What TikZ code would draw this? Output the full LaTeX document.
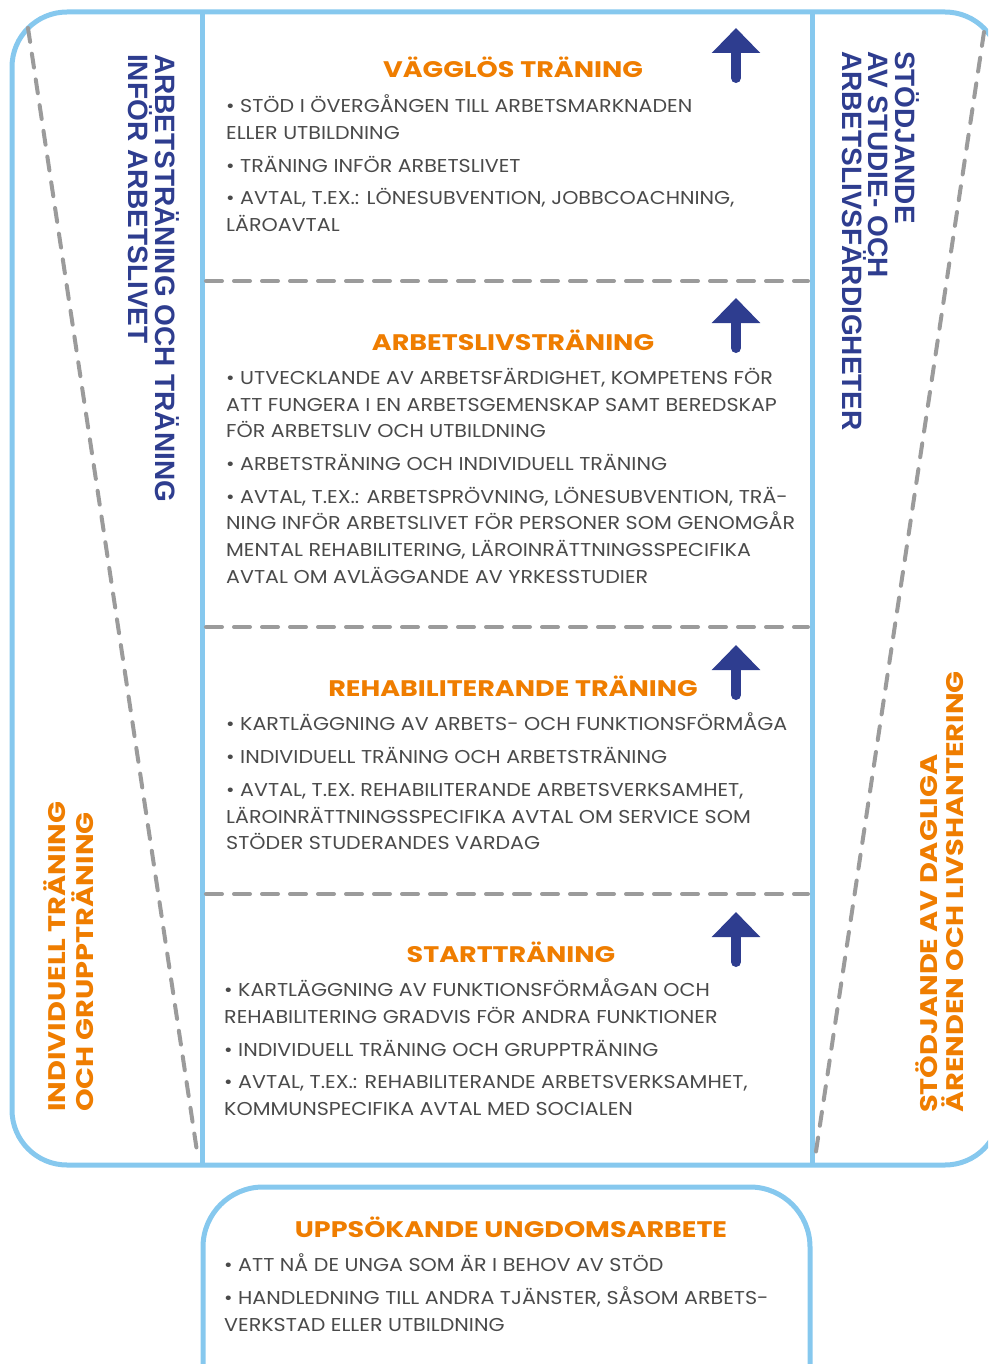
\documentclass[tikz,border=0pt]{standalone}
\usepackage{fontspec}
\setmainfont{Poppins}[FakeStretch=1.11]
\newfontfamily\headfont{Poppins}[FakeStretch=1.2]
\newfontfamily\bluefont{Liberation Sans}
\usetikzlibrary{arrows.meta}
\definecolor{lblue}{HTML}{86C8EE}
\definecolor{dgray}{HTML}{9B9B9B}
\definecolor{org}{HTML}{EF7D00}
\definecolor{navy}{HTML}{2E3D8F}
\definecolor{txt}{HTML}{4A4A4A}
\tikzset{
  frame/.style={draw=lblue, line width=5pt},
  sep/.style={draw=dgray, line width=4pt, line cap=round, dash pattern=on 16pt off 12pt},
  diag/.style={draw=dgray, line width=4pt, line cap=round, dash pattern=on 14pt off 12pt},
  body/.style={inner sep=0pt, anchor=base west, text=txt, font=\fontsize{18.6}{20}\selectfont},
  head/.style={inner sep=0pt, anchor=base, text=org, font=\headfont\bfseries\fontsize{22.5}{24}\selectfont},
  vblue/.style={inner sep=0pt, anchor=base west, rotate=-90, text=navy, font=\bluefont\bfseries\fontsize{28}{28}\selectfont},
  vorg/.style={inner sep=0pt, anchor=base west, rotate=90, text=org, font=\headfont\bfseries\fontsize{24}{24}\selectfont},
  uparrow/.style={draw=navy, line width=10pt, line cap=round, -{Triangle[width=47pt,length=25pt]}},
}
\begin{document}
\begin{tikzpicture}[x=1pt,y=-1pt]
\useasboundingbox (0,0) rectangle (988,1364);
\clip (0,0) rectangle (988,1364);
% frames
\draw[frame, rounded corners=55pt] (12,12) rectangle (1000,1165);
\draw[frame] (202,12) -- (202,1165);
\draw[frame] (812,12) -- (812,1165);
\draw[frame, rounded corners=60pt] (203,1187) rectangle (810,1440);
% dashed separators
\draw[sep] (206,281) -- (808,281);
\draw[sep] (206,627) -- (808,627);
\draw[sep] (206,894) -- (808,894);
% diagonals
\draw[diag] (28,28) -- (198,1158);
\draw[diag] (984,32) -- (815,1158);
% arrows
\coordinate (a1s) at (736,78); \coordinate (a1t) at (736,28);
\coordinate (a2s) at (736,348); \coordinate (a2t) at (736,298);
\coordinate (a3s) at (736,695); \coordinate (a3t) at (736,645);
\coordinate (a4s) at (736,962); \coordinate (a4t) at (736,912);
\draw[uparrow] (a1s) -- (a1t);
\draw[uparrow] (a2s) -- (a2t);
\draw[uparrow] (a3s) -- (a3t);
\draw[uparrow] (a4s) -- (a4t);
% headings
\node[head] (h1) at (513,78) {VÄGGLÖS TRÄNING};
\node[head] (h2) at (513,350) {ARBETSLIVSTRÄNING};
\node[head] (h3) at (513,696) {REHABILITERANDE TRÄNING};
\node[head] (h4) at (511,962) {STARTTRÄNING};
\node[head] (h5) at (511,1237) {UPPSÖKANDE UNGDOMSARBETE};
% body texts
\foreach \y/\t [count=\i] in {
  112.5/{• STÖD I ÖVERGÅNGEN TILL ARBETSMARKNADEN},
  139.5/{ELLER UTBILDNING},
  172.5/{• TRÄNING INFÖR ARBETSLIVET},
  204.5/{• AVTAL, T.EX.: LÖNESUBVENTION, JOBBCOACHNING,},
  231.5/{LÄROAVTAL},
  384.5/{• UTVECKLANDE AV ARBETSFÄRDIGHET, KOMPETENS FÖR},
  411.5/{ATT FUNGERA I EN ARBETSGEMENSKAP SAMT BEREDSKAP},
  437.5/{FÖR ARBETSLIV OCH UTBILDNING},
  470.5/{• ARBETSTRÄNING OCH INDIVIDUELL TRÄNING},
  503.5/{• AVTAL, T.EX.: ARBETSPRÖVNING, LÖNESUBVENTION, TRÄ-},
  529.5/{NING INFÖR ARBETSLIVET FÖR PERSONER SOM GENOMGÅR},
  556.5/{MENTAL REHABILITERING, LÄROINRÄTTNINGSSPECIFIKA},
  583.5/{AVTAL OM AVLÄGGANDE AV YRKESSTUDIER},
  730.5/{• KARTLÄGGNING AV ARBETS- OCH FUNKTIONSFÖRMÅGA},
  763.5/{• INDIVIDUELL TRÄNING OCH ARBETSTRÄNING},
  796.5/{• AVTAL, T.EX. REHABILITERANDE ARBETSVERKSAMHET,},
  823.5/{LÄROINRÄTTNINGSSPECIFIKA AVTAL OM SERVICE SOM},
  849.5/{STÖDER STUDERANDES VARDAG}}
  \node[body] (b\i) at (226,\y) {\t};
\foreach \y/\t [count=\i] in {
  996.5/{• KARTLÄGGNING AV FUNKTIONSFÖRMÅGAN OCH},
  1023.5/{REHABILITERING GRADVIS FÖR ANDRA FUNKTIONER},
  1056.5/{• INDIVIDUELL TRÄNING OCH GRUPPTRÄNING},
  1088.5/{• AVTAL, T.EX.: REHABILITERANDE ARBETSVERKSAMHET,},
  1115.5/{KOMMUNSPECIFIKA AVTAL MED SOCIALEN},
  1271.5/{• ATT NÅ DE UNGA SOM ÄR I BEHOV AV STÖD},
  1304.5/{• HANDLEDNING TILL ANDRA TJÄNSTER, SÅSOM ARBETS-},
  1331.5/{VERKSTAD ELLER UTBILDNING}}
  \node[body] (c\i) at (224,\y) {\t};
% vertical blue texts
\node[vblue] (v1) at (155,54) {ARBETSTRÄNING OCH TRÄNING};
\node[vblue] (v2) at (128,54) {INFÖR ARBETSLIVET};
\node[vblue] (v3) at (895,51) {STÖDJANDE};
\node[vblue] (v4) at (868,51) {AV STUDIE- OCH};
\node[vblue] (v5) at (842,51) {ARBETSLIVSFÄRDIGHETER};
% vertical orange texts
\node[vorg] (o1) at (65,1112) {INDIVIDUELL TRÄNING};
\node[vorg] (o2) at (93,1112) {OCH GRUPPTRÄNING};
\node[vorg] (o3) at (937,1113) {STÖDJANDE AV DAGLIGA};
\node[vorg] (o4) at (963,1113) {ÄRENDEN OCH LIVSHANTERING};
\end{tikzpicture}
\end{document}
